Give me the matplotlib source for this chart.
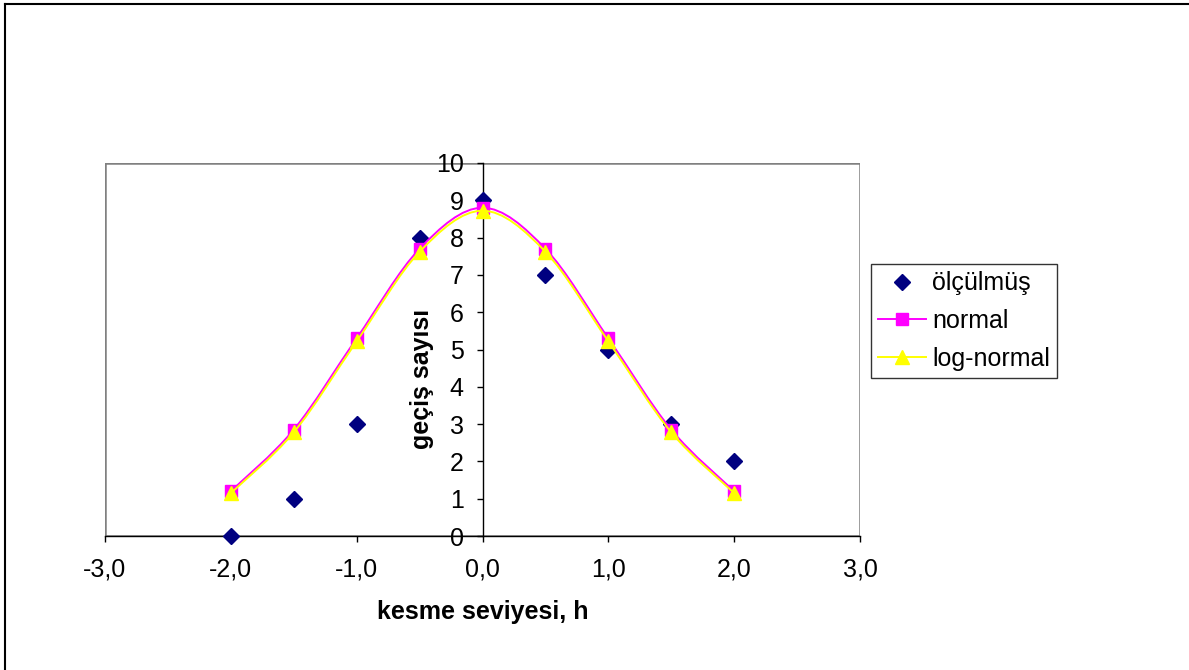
import matplotlib
matplotlib.use("Agg")
import matplotlib.pyplot as plt
from matplotlib.path import Path
from matplotlib.patches import PathPatch
from matplotlib.lines import Line2D

plt.rcParams['font.family'] = ['Liberation Sans', 'DejaVu Sans']

h = [-2.0, -1.5, -1.0, -0.5, 0.0, 0.5, 1.0, 1.5, 2.0]
olculmus = [0, 1, 3, 8, 9, 7, 5, 3, 2]
normal = [1.2, 2.85, 5.3, 7.7, 8.8, 7.7, 5.3, 2.85, 1.2]
lognormal = [1.15, 2.78, 5.22, 7.62, 8.72, 7.62, 5.22, 2.78, 1.15]

xticks = [-3, -2, -1, 0, 1, 2, 3]
xticklabels = ['-3,0', '-2,0', '-1,0', '0,0', '1,0', '2,0', '3,0']
yticks = list(range(0, 11))

NAVY = '#000080'
MAGENTA = '#FF00FF'
YELLOW = '#FFFF00'
FS = 18


def smooth_path(xs, ys):
    # Excel-style smoothed line: cubic Bezier through the data points
    pts = list(zip(xs, ys))
    n = len(pts)
    verts = [pts[0]]
    codes = [Path.MOVETO]
    for i in range(n - 1):
        p0 = pts[i - 1] if i > 0 else pts[i]
        p1 = pts[i]
        p2 = pts[i + 1]
        p3 = pts[i + 2] if i + 2 < n else pts[i + 1]
        c1 = (p1[0] + (p2[0] - p0[0]) / 6.0, p1[1] + (p2[1] - p0[1]) / 6.0)
        c2 = (p2[0] - (p3[0] - p1[0]) / 6.0, p2[1] - (p3[1] - p1[1]) / 6.0)
        verts += [c1, c2, p2]
        codes += [Path.CURVE4] * 3
    return Path(verts, codes)


fig = plt.figure(figsize=(11.89, 6.70), dpi=100)
ax = fig.add_axes([105 / 1189, 1 - 536 / 670, 755 / 1189, 373 / 670])

ax.set_xlim(-3, 3)
ax.set_ylim(0, 10)

# plot area frame
ax.add_patch(plt.Rectangle((0, 0), 1, 1, transform=ax.transAxes, fill=False,
                           edgecolor='#808080', linewidth=1.8, zorder=0.5))

ax.spines['left'].set_position(('data', 0))
ax.spines['right'].set_visible(False)
ax.spines['top'].set_visible(False)
for s in ['left', 'bottom']:
    ax.spines[s].set_color('black')
    ax.spines[s].set_linewidth(1.0)
ax.spines['bottom'].set_zorder(1)

ax.set_xticks(xticks)
ax.set_xticklabels(xticklabels)
ax.set_yticks(yticks)
ax.tick_params(axis='both', direction='out', length=4.5, width=1.0, labelsize=FS,
               colors='black')
ax.tick_params(axis='y', pad=9)
ax.tick_params(axis='x', pad=11)

# series
ax.plot(h, olculmus, linestyle='none', marker='D', markersize=8,
        color=NAVY, zorder=3, clip_on=False)
ax.add_patch(PathPatch(smooth_path(h, normal), facecolor='none', edgecolor=MAGENTA,
                       linewidth=1.4, zorder=4))
ax.plot(h, normal, linestyle='none', marker='s', markersize=8.5,
        color=MAGENTA, zorder=4.5)
ax.add_patch(PathPatch(smooth_path(h, lognormal), facecolor='none', edgecolor=YELLOW,
                       linewidth=1.4, zorder=5))
ax.plot(h, lognormal, linestyle='none', marker='^', markersize=10,
        color=YELLOW, zorder=5.5)

ax.set_xlabel('kesme seviyesi, h', fontsize=FS, fontweight='bold')
ax.xaxis.set_label_coords(0.5, -0.172)
ax.set_ylabel('geçiş sayısı', fontsize=FS, fontweight='bold')
ax.yaxis.set_label_coords(0.436, 0.422)

handles = [
    Line2D([], [], linestyle='none', marker='D', markersize=8, color=NAVY),
    Line2D([], [], color=MAGENTA, linewidth=1.4, marker='s', markersize=8.5),
    Line2D([], [], color=YELLOW, linewidth=1.4, marker='^', markersize=10),
]
leg = fig.legend(handles, ['ölçülmüş', 'normal', 'log-normal'],
                 loc='center', bbox_to_anchor=(964 / 1189, 1 - 321 / 670),
                 fontsize=FS, frameon=True, fancybox=False, shadow=False,
                 handlelength=1.9, handletextpad=0.25, borderpad=0.3,
                 labelspacing=0.55, borderaxespad=0)
leg.get_frame().set_edgecolor('black')
leg.get_frame().set_linewidth(1.0)

# outer chart border (top and left visible)
fig.add_artist(Line2D([5 / 1189, 5 / 1189], [0, 1 - 4 / 670], transform=fig.transFigure,
                      color='black', linewidth=1.5))
fig.add_artist(Line2D([5 / 1189, 1], [1 - 4 / 670, 1 - 4 / 670], transform=fig.transFigure,
                      color='black', linewidth=1.5))

fig.savefig('out.png', dpi=100, facecolor='white')
